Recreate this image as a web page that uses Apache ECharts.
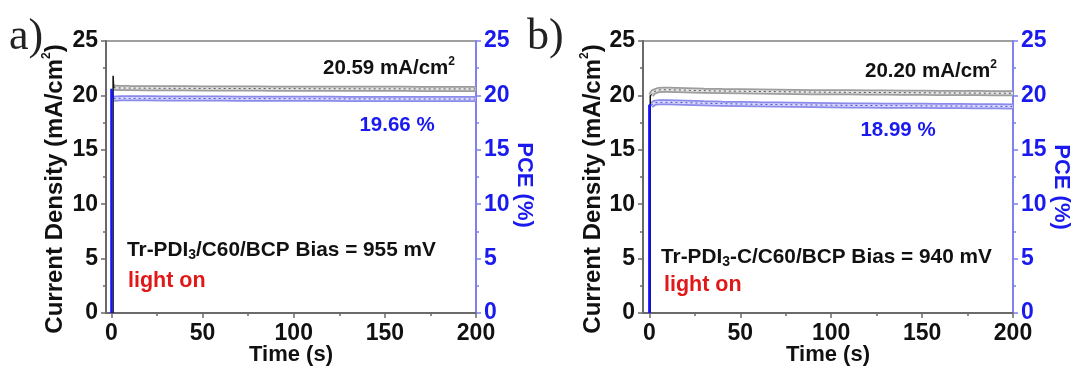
<!DOCTYPE html>
<html>
<head>
<meta charset="utf-8">
<script src="https://cdn.jsdelivr.net/npm/echarts@6/dist/echarts.min.js"></script>
<style>
html,body{margin:0;padding:0;background:#fff;}
#chart{width:1074px;height:369px;}
</style>
</head>
<body>
<div id="chart"></div>
<script>
// ---- data ----
const xTicks = [0, 50, 100, 150, 200];
const xMinorTicks = [25, 75, 125, 175];

// panel a
const timeA = [1.2, 2, 5, 10, 20, 30, 40, 50, 60, 70, 80, 90, 100, 110, 120, 130, 140, 150, 160, 170, 180, 190, 200];
const jA    = [20.70, 20.70, 20.68, 20.67, 20.66, 20.65, 20.65, 20.64, 20.64, 20.63, 20.63, 20.62, 20.62, 20.61, 20.61, 20.61, 20.60, 20.60, 20.60, 20.59, 20.59, 20.59, 20.59];
const pceA  = [19.70, 19.74, 19.74, 19.73, 19.73, 19.72, 19.72, 19.71, 19.71, 19.70, 19.70, 19.70, 19.69, 19.69, 19.69, 19.68, 19.68, 19.68, 19.67, 19.67, 19.67, 19.66, 19.66];
const spikeJA_t = [0.9, 0.9, 1.2];
const spikeJA_v = [0, 21.8, 20.7];
const spikePA_t = [0, 0, 0.6];
const spikePA_v = [0, 20.6, 19.7];

// panel b
const timeB = [1, 2, 3, 5, 8, 10, 15, 20, 30, 40, 50, 60, 70, 80, 90, 100, 110, 120, 130, 140, 150, 160, 170, 180, 190, 200];
const jB    = [20.00, 20.30, 20.42, 20.50, 20.52, 20.52, 20.50, 20.48, 20.43, 20.40, 20.38, 20.36, 20.34, 20.32, 20.30, 20.29, 20.28, 20.27, 20.26, 20.25, 20.24, 20.23, 20.22, 20.21, 20.20, 20.20];
const pceB  = [19.10, 19.25, 19.32, 19.36, 19.37, 19.37, 19.35, 19.33, 19.28, 19.24, 19.21, 19.18, 19.16, 19.14, 19.12, 19.10, 19.08, 19.07, 19.06, 19.05, 19.04, 19.03, 19.02, 19.01, 19.00, 18.99];
const spikeJB_t = [0.5, 0.5, 1];
const spikeJB_v = [0, 20.0, 20.0];
const spikePB_t = [0, 0, 1];
const spikePB_v = [0, 19.1, 19.1];

const yTicksLabels = [0, 5, 10, 15, 20, 25];

function zip(t, v) { return t.map((x, i) => [x, v[i]]); }

const FONT = "'Liberation Sans', Arial, Helvetica, sans-serif";
const chart = echarts.init(document.getElementById('chart'), null, {renderer: 'canvas'});

const grids = [
  {left: 106, top: 41, width: 370, height: 272},
  {left: 643, top: 41, width: 370, height: 272}
];
const xMins = [-3, -3.5];

const xAxis = [], yAxis = [], series = [];
grids.forEach((g, gi) => {
  xAxis.push({
    gridIndex: gi, type: 'value', min: xMins[gi], max: 200,
    axisLine: {show: true, onZero: false, lineStyle: {color: '#6a6a6a', width: 2}},
    axisTick: {show: true, customValues: xTicks, length: 5, lineStyle: {color: '#6a6a6a', width: 1.5}},
    axisLabel: {show: true, customValues: xTicks, margin: 9, color: '#111', fontSize: 23, fontWeight: 'bold', fontFamily: FONT},
    splitLine: {show: false},
    name: 'Time (s)', nameLocation: 'middle', nameGap: 31, nameMoveOverlap: false,
    nameTextStyle: {color: '#111', fontSize: 22, fontWeight: 'bold', fontFamily: FONT}
  });
  xAxis.push({
    gridIndex: gi, type: 'value', min: xMins[gi], max: 200, position: 'bottom',
    axisLine: {show: false},
    axisTick: {show: true, customValues: xMinorTicks, length: 3, lineStyle: {color: '#6a6a6a', width: 1.5}},
    axisLabel: {show: false},
    splitLine: {show: false}
  });
  yAxis.push({
    gridIndex: gi, type: 'value', min: 0, max: 25, interval: 5, position: 'left',
    axisLine: {show: true, onZero: false, lineStyle: {color: '#6a6a6a', width: 2}},
    axisTick: {show: true, length: 5, lineStyle: {color: '#6a6a6a', width: 1.5}},
    minorTick: {show: true, splitNumber: 2, length: 3, lineStyle: {color: '#6a6a6a', width: 1.5}},
    axisLabel: {margin: 8, color: '#111', fontSize: 23, fontWeight: 'bold', fontFamily: FONT,
      customValues: yTicksLabels},
    splitLine: {show: false}
  });
  yAxis.push({
    gridIndex: gi, type: 'value', min: 0, max: 25, interval: 5, position: 'right',
    axisLine: {show: true, onZero: false, lineStyle: {color: '#8080ee', width: 2}},
    axisTick: {show: true, length: 5, lineStyle: {color: '#8080ee', width: 1.5}},
    minorTick: {show: true, splitNumber: 2, length: 3, lineStyle: {color: '#8080ee', width: 1.5}},
    axisLabel: {margin: 8, color: '#1a1aee', fontSize: 23, fontWeight: 'bold', fontFamily: FONT},
    splitLine: {show: false}
  });
});

function band(xi, yi, data, outer, inner, core) {
  const base = {type: 'line', xAxisIndex: xi, yAxisIndex: yi, showSymbol: false, symbol: 'none', silent: true, animation: false, z: 3};
  return [
    Object.assign({}, base, {data: data, lineStyle: {color: outer, width: 6}}),
    Object.assign({}, base, {data: data, lineStyle: {color: inner, width: 2.5}}),
    Object.assign({}, base, {data: data, lineStyle: {color: core, width: 1, type: [2, 3]}})
  ];
}
function spike(xi, yi, data, color, w, z) {
  return {type: 'line', xAxisIndex: xi, yAxisIndex: yi, showSymbol: false, symbol: 'none', silent: true,
    data: data, lineStyle: {color: color, width: w}, z: z};
}

// panel a (xAxis 0, yAxis 0 left, 1 right)
series.push(...band(0, 0, zip(timeA, jA), '#9c9c9c', '#e4e4e4', '#555'));
series.push(...band(0, 1, zip(timeA, pceA), '#8a8aea', '#dadaff', '#4a4ad8'));
series.push(spike(0, 0, zip(spikeJA_t, spikeJA_v), '#111', 1.5, 4));
series.push(spike(0, 1, zip(spikePA_t, spikePA_v), '#1414ff', 2.5, 5));
// panel b (xAxis 2, yAxis 2 left, 3 right)
series.push(...band(2, 2, zip(timeB, jB), '#9c9c9c', '#e4e4e4', '#555'));
series.push(...band(2, 3, zip(timeB, pceB), '#8a8aea', '#dadaff', '#4a4ad8'));
series.push(spike(2, 2, zip(spikeJB_t, spikeJB_v), '#111', 1.5, 4));
series.push(spike(2, 3, zip(spikePB_t, spikePB_v), '#1414ff', 2.5, 5));

function txt(x, y, text, opts) {
  const o = Object.assign({size: 20, color: '#111', align: 'left', rot: 0, family: FONT, weight: 'bold', rich: undefined}, opts || {});
  return {
    type: 'text', x: x, y: y, rotation: o.rot, silent: true, z: 100,
    style: {
      text: text, fill: o.color, fontSize: o.size, fontWeight: o.weight, fontFamily: o.family,
      textAlign: o.align, textVerticalAlign: 'middle', align: o.align, verticalAlign: 'middle',
      lineHeight: o.size + 4, rich: o.rich
    }
  };
}
const supRich = {sup: {fontSize: 12, fontWeight: 'bold', fontFamily: FONT, verticalAlign: 'top', lineHeight: 12}};
const subRich = {s3: {fontSize: 14, fontWeight: 'bold', fontFamily: FONT, verticalAlign: 'bottom', lineHeight: 16}};

const graphic = [
  txt(9, 37, 'a)', {size: 44, family: "'Liberation Serif', 'Times New Roman', serif", weight: 'normal', color: '#222'}),
  txt(527, 37, 'b)', {size: 44, family: "'Liberation Serif', 'Times New Roman', serif", weight: 'normal', color: '#222'}),
  // y titles
  txt(55, 189, 'Current Density (mA/cm{sup|2})', {size: 24, rot: Math.PI / 2, align: 'center', rich: supRich}),
  txt(593, 189, 'Current Density (mA/cm{sup|2})', {size: 24, rot: Math.PI / 2, align: 'center', rich: supRich}),
  txt(524, 185, 'PCE (%)', {size: 22, rot: -Math.PI / 2, align: 'center', color: '#1a1aee'}),
  txt(1061, 187, 'PCE (%)', {size: 22, rot: -Math.PI / 2, align: 'center', color: '#1a1aee'}),
  // panel a annotations
  txt(455, 68, '20.59 mA/cm{sup|2}', {size: 20.5, align: 'right', rich: supRich}),
  txt(397, 125, '19.66 %', {size: 20.5, align: 'center', color: '#1a1aee'}),
  txt(127, 250, 'Tr-PDI{s3|3}/C60/BCP Bias = 955 mV', {size: 20.8, rich: subRich}),
  txt(128, 281, 'light on', {size: 21.5, color: '#e01818'}),
  // panel b annotations
  txt(997, 71, '20.20 mA/cm{sup|2}', {size: 20.5, align: 'right', rich: supRich}),
  txt(898, 130, '18.99 %', {size: 20.5, align: 'center', color: '#1a1aee'}),
  txt(661, 257, 'Tr-PDI{s3|3}-C/C60/BCP Bias = 940 mV', {size: 20.8, rich: subRich}),
  txt(664, 285, 'light on', {size: 21.5, color: '#e01818'})
];

chart.setOption({
  animation: false,
  backgroundColor: '#fff',
  grid: grids.map(g => Object.assign({show: true, borderColor: '#808080', borderWidth: 1.5, backgroundColor: 'transparent', containLabel: false, outerBoundsMode: 'none'}, g)),
  xAxis: xAxis,
  yAxis: yAxis,
  series: series,
  graphic: graphic
});
</script>
</body>
</html>
